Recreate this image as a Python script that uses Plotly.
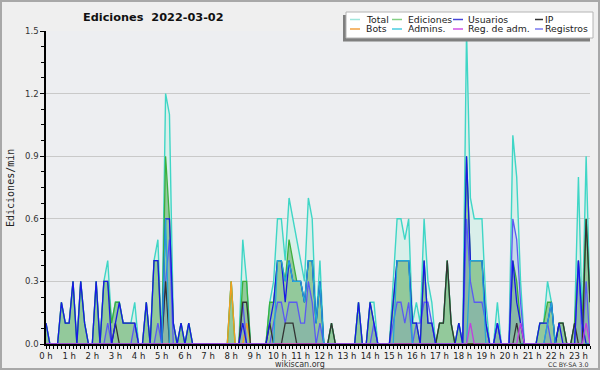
import plotly.graph_objects as go

# ---------------- data (10-minute bins, edits per minute) ----------------
minutes = list(range(0, 1420, 10))  # 00:00 .. 23:30

hour_ticks = list(range(24))
hour_labels = ["0 h", "1 h", "2 h", "3 h", "4 h", "5 h", "6 h", "7 h", "8 h", "9 h",
               "10 h", "11 h", "12 h", "13 h", "14 h", "15 h", "16 h", "17 h", "18 h",
               "19 h", "20 h", "21 h", "22 h", "23 h"]
y_tick_vals = [0, 0.3, 0.6, 0.9, 1.2, 1.5]
y_tick_text = ["0.0", "0.3", "0.6", "0.9", "1.2", "1.5"]

total = [
    0.1, 0, 0, 0, 0.2, 0.1,
    0.1, 0.3, 0, 0.3, 0.1, 0,
    0, 0.3, 0, 0.3, 0.4, 0.1,
    0.2, 0.2, 0.1, 0.1, 0.1, 0.2,
    0, 0, 0.2, 0, 0.4, 0.5,
    0, 1.2, 1.1, 0.1, 0, 0.1,
    0, 0.1, 0, 0, 0, 0,
    0, 0, 0, 0, 0, 0,
    0.3, 0, 0, 0.5, 0.3, 0,
    0, 0, 0, 0, 0.2, 0.3,
    0.6, 0.6, 0.4, 0.7, 0.6, 0.5,
    0.4, 0.3, 0.7, 0.6, 0.1, 0.4,
    0, 0, 0.1, 0, 0, 0,
    0, 0, 0, 0.2, 0, 0,
    0.2, 0.2, 0, 0, 0, 0,
    0.3, 0.6, 0.6, 0.5, 0.6, 0.1,
    0.2, 0.1, 0.6, 0.3, 0.2, 0,
    0.1, 0.1, 0.4, 0.1, 0, 0.1,
    0, 1.5, 0.7, 0.6, 0.6, 0.6,
    0.2, 0, 0, 0.2, 0, 0,
    0, 1.0, 0.8, 0.3, 0, 0,
    0, 0, 0.1, 0.1, 0.3, 0.2,
    0, 0.1, 0.1, 0, 0, 0.1,
    0.8, 0.1, 0.9, 0.2,
]

ediciones = [
    0.1, 0, 0, 0, 0.2, 0.1,
    0.1, 0.3, 0, 0.3, 0.1, 0,
    0, 0.3, 0, 0.3, 0.3, 0.1,
    0.2, 0.2, 0.1, 0.1, 0.1, 0.1,
    0, 0, 0.2, 0, 0.4, 0.4,
    0, 0.9, 0.6, 0.1, 0, 0.1,
    0, 0.1, 0, 0, 0, 0,
    0, 0, 0, 0, 0, 0,
    0.3, 0, 0, 0.3, 0.3, 0,
    0, 0, 0, 0, 0.2, 0.2,
    0.4, 0.4, 0.3, 0.5, 0.4, 0.3,
    0.3, 0.2, 0.4, 0.4, 0.1, 0.3,
    0, 0, 0.1, 0, 0, 0,
    0, 0, 0, 0.2, 0, 0,
    0.2, 0.1, 0, 0, 0, 0,
    0.2, 0.4, 0.4, 0.4, 0.4, 0.1,
    0.1, 0, 0.4, 0.1, 0.1, 0,
    0.1, 0.1, 0.4, 0.1, 0, 0.1,
    0, 0.9, 0.4, 0.4, 0.4, 0.4,
    0.1, 0, 0, 0.1, 0, 0,
    0, 0.4, 0.3, 0.1, 0, 0,
    0, 0, 0.1, 0.1, 0.2, 0.2,
    0, 0.1, 0.1, 0, 0, 0.1,
    0.4, 0.1, 0.6, 0.2,
]

usuarios = [
    0.1, 0, 0, 0, 0.2, 0.1,
    0.1, 0.3, 0, 0.3, 0.1, 0,
    0, 0.3, 0, 0.3, 0.3, 0,
    0.1, 0.2, 0.1, 0.1, 0.1, 0.1,
    0, 0, 0.2, 0, 0.4, 0.4,
    0, 0.6, 0.6, 0.1, 0, 0.1,
    0, 0.1, 0, 0, 0, 0,
    0, 0, 0, 0, 0, 0,
    0, 0, 0, 0.1, 0, 0,
    0, 0, 0, 0, 0.1, 0.2,
    0.4, 0.4, 0.2, 0.4, 0.3, 0.3,
    0.3, 0.2, 0.4, 0.4, 0.1, 0.3,
    0, 0, 0, 0, 0, 0,
    0, 0, 0, 0.2, 0, 0,
    0.2, 0.1, 0, 0, 0, 0,
    0.2, 0.4, 0.4, 0.4, 0.4, 0.1,
    0.1, 0, 0.4, 0.1, 0.1, 0,
    0, 0, 0, 0, 0, 0.1,
    0, 0.9, 0.4, 0.4, 0.4, 0.4,
    0.1, 0, 0, 0.1, 0, 0,
    0, 0.4, 0.2, 0.1, 0, 0,
    0, 0, 0.1, 0.1, 0.1, 0.2,
    0, 0.1, 0, 0, 0, 0,
    0.4, 0.1, 0, 0,
]

ip = [
    0, 0, 0, 0, 0, 0,
    0, 0, 0, 0, 0, 0,
    0, 0, 0, 0, 0, 0,
    0.1, 0, 0, 0, 0, 0,
    0, 0, 0, 0, 0, 0,
    0, 0.3, 0, 0, 0, 0,
    0, 0, 0, 0, 0, 0,
    0, 0, 0, 0, 0, 0,
    0, 0, 0, 0.2, 0.2, 0,
    0, 0, 0, 0, 0.1, 0,
    0, 0, 0.1, 0.1, 0.1, 0,
    0, 0, 0, 0, 0, 0,
    0, 0, 0.1, 0, 0, 0,
    0, 0, 0, 0, 0, 0,
    0, 0, 0, 0, 0, 0,
    0, 0, 0, 0, 0, 0,
    0, 0, 0, 0, 0, 0,
    0.1, 0.1, 0.4, 0.1, 0, 0,
    0, 0, 0, 0, 0, 0,
    0, 0, 0, 0, 0, 0,
    0, 0, 0.1, 0, 0, 0,
    0, 0, 0, 0, 0, 0,
    0, 0.1, 0.1, 0, 0, 0.1,
    0, 0, 0.6, 0.2,
]

bots = [
    0, 0, 0, 0, 0, 0,
    0, 0, 0, 0, 0, 0,
    0, 0, 0, 0, 0, 0,
    0, 0, 0, 0, 0, 0,
    0, 0, 0, 0, 0, 0,
    0, 0, 0, 0, 0, 0,
    0, 0, 0, 0, 0, 0,
    0, 0, 0, 0, 0, 0,
    0.3, 0, 0, 0, 0.1, 0,
    0, 0, 0, 0, 0, 0,
    0, 0, 0, 0, 0, 0,
    0, 0, 0, 0, 0, 0,
    0, 0, 0, 0, 0, 0,
    0, 0, 0, 0, 0, 0,
    0, 0, 0, 0, 0, 0,
    0, 0, 0, 0, 0, 0,
    0, 0, 0, 0, 0, 0,
    0, 0, 0, 0, 0, 0,
    0, 0, 0, 0, 0, 0,
    0, 0, 0, 0, 0, 0,
    0, 0, 0, 0, 0, 0,
    0, 0, 0, 0, 0, 0,
    0, 0, 0, 0, 0, 0,
    0, 0, 0, 0,
]

admins = [
    0, 0, 0, 0, 0, 0,
    0, 0, 0, 0, 0, 0,
    0, 0, 0, 0, 0, 0,
    0, 0, 0, 0, 0, 0,
    0, 0, 0, 0, 0, 0,
    0, 0.6, 0, 0, 0, 0,
    0, 0, 0, 0, 0, 0,
    0, 0, 0, 0, 0, 0,
    0, 0, 0, 0, 0, 0,
    0, 0, 0, 0, 0, 0,
    0.4, 0.4, 0.3, 0.4, 0.3, 0.3,
    0.3, 0.2, 0.4, 0.4, 0.1, 0.3,
    0, 0, 0, 0, 0, 0,
    0, 0, 0, 0, 0, 0,
    0, 0, 0, 0, 0, 0,
    0, 0.4, 0.4, 0.4, 0.4, 0,
    0, 0, 0, 0, 0, 0,
    0, 0, 0, 0, 0, 0,
    0, 0, 0.4, 0.4, 0.4, 0.4,
    0, 0, 0, 0, 0, 0,
    0, 0, 0, 0, 0, 0,
    0, 0, 0, 0, 0.1, 0.2,
    0, 0, 0, 0, 0, 0,
    0, 0, 0, 0,
]

reg_adm = [
    0, 0, 0, 0, 0, 0,
    0, 0, 0, 0, 0, 0,
    0, 0, 0, 0, 0, 0,
    0, 0, 0, 0, 0, 0,
    0, 0, 0, 0, 0, 0,
    0, 0, 0, 0, 0, 0,
    0, 0, 0, 0, 0, 0,
    0, 0, 0, 0, 0, 0,
    0, 0, 0, 0, 0, 0,
    0, 0, 0, 0, 0, 0,
    0, 0, 0, 0, 0, 0,
    0, 0, 0, 0, 0, 0,
    0, 0, 0, 0, 0, 0,
    0, 0, 0, 0, 0, 0,
    0, 0, 0, 0, 0, 0,
    0, 0, 0, 0, 0, 0,
    0, 0, 0, 0, 0, 0,
    0, 0, 0, 0, 0, 0,
    0, 0, 0.1, 0, 0, 0,
    0, 0, 0, 0, 0, 0,
    0, 0, 0, 0.1, 0, 0,
    0, 0, 0, 0, 0, 0,
    0, 0, 0, 0, 0, 0,
    0, 0, 0.1, 0,
]

registros = [
    0, 0, 0, 0, 0, 0,
    0, 0, 0, 0, 0, 0,
    0, 0, 0, 0, 0.1, 0,
    0, 0, 0, 0, 0, 0.1,
    0, 0, 0, 0, 0, 0.1,
    0, 0.3, 0.5, 0, 0, 0,
    0, 0, 0, 0, 0, 0,
    0, 0, 0, 0, 0, 0,
    0, 0, 0, 0.2, 0, 0,
    0, 0, 0, 0, 0, 0.1,
    0.2, 0.2, 0.1, 0.2, 0.2, 0.2,
    0.1, 0.1, 0.3, 0.2, 0, 0.1,
    0, 0, 0, 0, 0, 0,
    0, 0, 0, 0, 0, 0,
    0, 0.1, 0, 0, 0, 0,
    0.1, 0.2, 0.2, 0.1, 0.2, 0,
    0.1, 0.1, 0.2, 0.2, 0.1, 0,
    0, 0, 0, 0, 0, 0,
    0, 0.6, 0.3, 0.2, 0.2, 0.2,
    0.1, 0, 0, 0.1, 0, 0,
    0, 0.6, 0.5, 0.2, 0, 0,
    0, 0, 0, 0, 0.1, 0,
    0, 0, 0, 0, 0, 0,
    0.4, 0, 0.3, 0,
]

legend_rows = [["Total", "Ediciones", "Usuarios", "IP"],
               ["Bots", "Admins.", "Reg. de adm.", "Registros"]]

# ---------------- styling ----------------
hours = [m / 60 for m in minutes]

C_TOTAL = "#3fd6c6"
C_EDIC = "#3caf3c"
C_USU = "#1818e6"
C_IP = "#333333"
C_BOTS = "#f0a020"
C_ADM = "#22a8d8"
C_REGADM = "#c23ee0"
C_REG = "#5a5af2"

legend_colors = {
    "Total": "#9fe6dc", "Ediciones": "#84d084", "Usuarios": "#4646d8", "IP": "#333333",
    "Bots": "#f2a040", "Admins.": "#48cde0", "Reg. de adm.": "#d050e6", "Registros": "#7a7af0",
}

fig = go.Figure()

# filled areas
fig.add_trace(go.Scatter(x=hours, y=total, mode="lines", fill="tozeroy",
                         fillcolor="#d9efea", line=dict(width=0, color=C_TOTAL),
                         hoverinfo="skip"))
fig.add_trace(go.Scatter(x=hours, y=ediciones, mode="lines", fill="tozeroy",
                         fillcolor="#93c99b", line=dict(width=0, color=C_EDIC),
                         hoverinfo="skip"))
fig.add_trace(go.Scatter(x=hours, y=registros, mode="lines", fill="tozeroy",
                         fillcolor="rgba(70,70,235,0.13)", line=dict(width=0, color=C_REG),
                         hoverinfo="skip"))

# lines
def add_line(y, color, w=1.3):
    fig.add_trace(go.Scatter(x=hours, y=y, mode="lines",
                             line=dict(color=color, width=w), hoverinfo="skip"))

add_line(total, C_TOTAL, 1.4)
add_line(ediciones, C_EDIC, 1.3)
add_line(bots, C_BOTS, 1.4)
add_line(registros, C_REG, 1.3)
add_line(ip, C_IP, 1.3)
add_line(usuarios, C_USU, 1.3)
add_line(admins, C_ADM, 1.2)
add_line(reg_adm, C_REGADM, 1.3)

# ---------------- layout helpers (pixel -> paper) ----------------
L, R, T, B = 46, 590, 31, 344
def px(x):
    return (x - L) / (R - L)
def py(y):
    return (B - y) / (B - T)

shapes = []
annotations = []

# outer frame
shapes.append(dict(type="rect", xref="paper", yref="paper",
                   x0=px(1), x1=px(599), y0=py(1), y1=py(369),
                   line=dict(color="#a8a8a8", width=2), fillcolor="rgba(0,0,0,0)",
                   layer="above"))

# legend box with shadow
shapes.append(dict(type="rect", xref="paper", yref="paper",
                   x0=px(343), x1=px(590), y0=py(15), y1=py(41.5),
                   line=dict(width=0), fillcolor="#7f7f7f", layer="above"))
shapes.append(dict(type="rect", xref="paper", yref="paper",
                   x0=px(346), x1=px(593), y0=py(12), y1=py(38),
                   line=dict(color="#b4b4b4", width=1), fillcolor="#ffffff", layer="above"))

sym_x = [350, 392, 453, 535]
sym_len = [10, 10, 10, 8]
txt_x = [365, 407, 467, 544]
row_y = [19.5, 29]
for r, row in enumerate(legend_rows):
    for c, name in enumerate(row):
        shapes.append(dict(type="line", xref="paper", yref="paper",
                           x0=px(sym_x[c]), x1=px(sym_x[c] + sym_len[c]),
                           y0=py(row_y[r]), y1=py(row_y[r]),
                           line=dict(color=legend_colors[name], width=1.5), layer="above"))
        annotations.append(dict(text=name, xref="paper", yref="paper",
                                x=px(txt_x[c]), y=py(row_y[r]), xanchor="left", yanchor="middle",
                                showarrow=False, borderpad=0,
                                font=dict(family="DejaVu Sans", size=9.3, color="#222222")))

# title
annotations.append(dict(text="<b>Ediciones \u00a02022-03-02</b>", xref="paper", yref="paper",
                        x=px(153.5), y=py(17), xanchor="center", yanchor="middle",
                        showarrow=False,
                        font=dict(family="DejaVu Sans", size=11.3, color="#111111")))
# y-axis title
annotations.append(dict(text="Ediciones/min", xref="paper", yref="paper",
                        x=px(10), y=py(188), xanchor="center", yanchor="middle",
                        textangle=-90, showarrow=False,
                        font=dict(family="DejaVu Sans Mono", size=10, color="#222222")))
# footer
annotations.append(dict(text="wikiscan.org", xref="paper", yref="paper",
                        x=px(300), y=py(364.5), xanchor="center", yanchor="middle",
                        showarrow=False, borderpad=0,
                        font=dict(family="DejaVu Sans", size=8, color="#333333")))
annotations.append(dict(text="CC BY-SA 3.0", xref="paper", yref="paper",
                        x=px(568), y=py(364.5), xanchor="center", yanchor="middle",
                        showarrow=False, borderpad=0,
                        font=dict(family="DejaVu Sans", size=6.3, color="#333333")))

fig.update_layout(
    width=600, height=370,
    margin=dict(l=L, r=600 - R, t=T, b=370 - B, pad=0),
    paper_bgcolor="#efefef", plot_bgcolor="#edeef1",
    showlegend=False,
    shapes=shapes, annotations=annotations,
    xaxis=dict(range=[0, minutes[-1] / 60], tickmode="array", tickvals=hour_ticks,
               ticktext=hour_labels, ticks="outside", ticklen=3, tickwidth=1,
               tickcolor="black", showline=True, linecolor="black", linewidth=1.5,
               showgrid=False, zeroline=False,
               tickfont=dict(family="DejaVu Sans", size=8.5, color="#222222"),
               minor=dict(dtick=1 / 6, tick0=0, ticks="outside", ticklen=3,
                          tickwidth=1, tickcolor="black", showgrid=False)),
    yaxis=dict(range=[0, 1.5], tickmode="array", tickvals=y_tick_vals,
               ticktext=y_tick_text, ticks="outside", ticklen=4, tickwidth=1,
               tickcolor="black", showline=True, linecolor="black", linewidth=1.5,
               showgrid=True, gridcolor="#c9c9c9", gridwidth=1, zeroline=False,
               tickfont=dict(family="DejaVu Sans", size=8.5, color="#333333"),
               minor=dict(dtick=0.075, tick0=0, ticks="outside", ticklen=3,
                          tickwidth=1, tickcolor="black", showgrid=False)),
)

fig.write_html("out.html", config={"displayModeBar": False},
               post_script="document.body.style.margin='0';document.body.style.padding='0';")
